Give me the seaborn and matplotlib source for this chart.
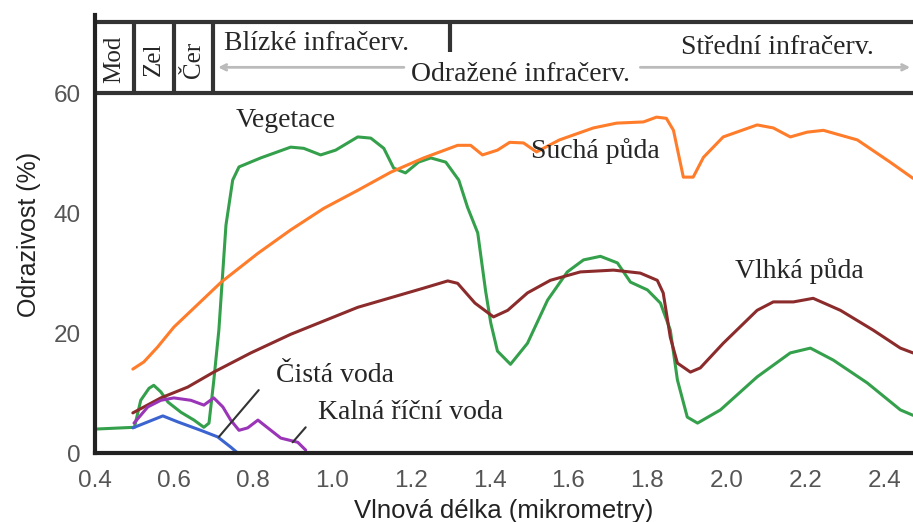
import numpy as np
import pandas as pd
import seaborn as sns
import matplotlib
matplotlib.use("Agg")
import matplotlib.pyplot as plt

# wavelength (micrometres) / reflectance (%)
veg_x = [0.40, 0.50, 0.516, 0.537, 0.549, 0.567, 0.585, 0.618, 0.651, 0.676, 0.689,
         0.701, 0.714, 0.732, 0.749, 0.765, 0.820, 0.896, 0.929, 0.972, 1.010, 1.066,
         1.099, 1.132, 1.157, 1.187, 1.220, 1.251, 1.289, 1.322, 1.344, 1.370, 1.390,
         1.403, 1.420, 1.453, 1.496, 1.547, 1.597, 1.638, 1.681, 1.724, 1.757, 1.800,
         1.833, 1.858, 1.876, 1.901, 1.927, 1.985, 2.078, 2.162, 2.213, 2.271, 2.357,
         2.441, 2.473]
veg_y = [4.0, 4.3, 8.8, 10.8, 11.3, 10.2, 8.5, 6.8, 5.5, 4.3, 5.0,
         12.0, 20.5, 38.0, 45.5, 47.7, 49.2, 51.0, 50.8, 49.7, 50.5, 52.7,
         52.5, 50.8, 47.5, 46.7, 48.5, 49.2, 48.5, 45.5, 41.0, 36.7, 27.0,
         21.7, 17.0, 14.8, 18.3, 25.5, 30.2, 32.2, 32.8, 31.7, 28.5, 27.2,
         25.0, 20.5, 12.2, 6.0, 5.0, 7.2, 12.7, 16.7, 17.5, 15.5, 11.7,
         7.2, 6.3]

dry_x = [0.496, 0.524, 0.559, 0.600, 0.720, 0.813, 0.896, 0.980, 1.066, 1.149, 1.233,
         1.319, 1.352, 1.382, 1.420, 1.451, 1.486, 1.519, 1.577, 1.663, 1.722, 1.790,
         1.823, 1.848, 1.866, 1.891, 1.916, 1.942, 1.992, 2.078, 2.119, 2.162, 2.205,
         2.246, 2.332, 2.415, 2.473]
dry_y = [14.0, 15.2, 17.7, 21.0, 28.5, 33.3, 37.2, 40.8, 43.8, 46.8, 49.2,
         51.3, 51.3, 49.7, 50.5, 51.8, 51.7, 50.2, 52.2, 54.2, 55.0, 55.2,
         56.0, 55.8, 53.8, 46.0, 46.0, 49.3, 52.7, 54.7, 54.2, 52.7, 53.5,
         53.8, 52.2, 48.5, 45.8]

wet_x = [0.496, 0.567, 0.635, 0.701, 0.795, 0.896, 1.066, 1.233, 1.294, 1.319, 1.363,
         1.410, 1.446, 1.496, 1.554, 1.630, 1.714, 1.782, 1.825, 1.840, 1.858, 1.876,
         1.909, 1.934, 1.992, 2.078, 2.119, 2.170, 2.220, 2.289, 2.372, 2.441, 2.473]
wet_y = [6.7, 9.2, 11.0, 13.5, 16.7, 19.8, 24.3, 27.5, 28.7, 28.3, 25.0,
         22.7, 23.8, 26.7, 28.8, 30.2, 30.5, 30.0, 28.8, 26.7, 19.3, 15.0,
         13.5, 14.2, 18.3, 23.8, 25.2, 25.2, 25.8, 23.8, 20.5, 17.5, 16.7]

clear_x = [0.496, 0.534, 0.572, 0.610, 0.668, 0.711, 0.744, 0.762]
clear_y = [4.2, 5.2, 6.2, 5.2, 3.8, 2.7, 1.0, 0.0]

turbid_x = [0.499, 0.534, 0.567, 0.600, 0.643, 0.676, 0.701, 0.724, 0.744, 0.765,
            0.787, 0.813, 0.838, 0.871, 0.914, 0.934]
turbid_y = [5.0, 7.7, 8.8, 9.2, 8.8, 8.0, 9.2, 7.7, 5.5, 3.8,
            4.2, 5.5, 4.2, 2.5, 1.8, 0.5]

x_ticks = [0.4, 0.6, 0.8, 1.0, 1.2, 1.4, 1.6, 1.8, 2.0, 2.2, 2.4]
y_ticks = [0, 20, 40, 60]
band_edges = [0.4, 0.5, 0.6, 0.7]
band_names = ["Mod", "Zel", "Čer"]

sns.set_style("white")
plt.rcParams['font.family'] = ['Liberation Sans', 'DejaVu Sans']

fig = plt.figure(figsize=(9.13, 5.22), dpi=100)
ax = fig.add_axes([0.104, 0.132, 0.896, 0.839])

series = [
    (veg_x, veg_y, "#35a04c"),
    (dry_x, dry_y, "#ff7c2a"),
    (wet_x, wet_y, "#8c2b2b"),
    (clear_x, clear_y, "#3c64d0"),
    (turbid_x, turbid_y, "#9a35b8"),
]
for xs, ys, col in series:
    df = pd.DataFrame({"x": xs, "y": ys})
    sns.lineplot(data=df, x="x", y="y", color=col, lw=2.2, sort=False,
                 estimator=None, ax=ax)

ax.set_xlim(0.4, 2.473)
ax.set_ylim(0, 73)
ax.set_xticks(x_ticks)
ax.set_xticklabels([f"{t:.1f}" for t in x_ticks])
ax.set_yticks(y_ticks)
ax.tick_params(direction="in", length=5, width=2, color="#333",
               labelsize=17.5, labelcolor="#555")
ax.tick_params(axis="x", pad=12)
ax.tick_params(axis="y", pad=10)
ax.set_xlabel("Vlnová délka (mikrometry)", fontsize=18.5, color="#222", labelpad=5)
ax.set_ylabel("Odrazivost (%)", fontsize=18, color="#222", labelpad=9)
for s in ["top", "right"]:
    ax.spines[s].set_visible(False)
for s in ["left", "bottom"]:
    ax.spines[s].set_linewidth(3)
    ax.spines[s].set_color("#222")

# header band with spectral regions
hdr = dict(color="#333", lw=3, solid_capstyle="butt")
ax.plot([0.4, 2.473], [60, 60], **hdr)
ax.plot([0.4, 2.473], [71.8, 71.8], **hdr)
for e in band_edges[1:]:
    ax.plot([e, e], [60, 71.8], **hdr)
ax.plot([1.3, 1.3], [66.8, 71.8], **hdr)

serif = ['Liberation Serif', 'DejaVu Serif']
fs = 20
for i, name in enumerate(band_names):
    ax.text((band_edges[i] + band_edges[i + 1]) / 2, 65.6, name, rotation=90,
            ha="center", va="center", fontsize=18, family=serif)

ax.annotate("", xy=(0.705, 64.3), xytext=(1.19, 64.3),
            arrowprops=dict(arrowstyle="->", color="#bbb", lw=2))
ax.annotate("", xy=(2.473, 64.3), xytext=(1.775, 64.3),
            arrowprops=dict(arrowstyle="->", color="#bbb", lw=2))
ax.text(0.727, 68.3, "Blízké infračerv.", fontsize=fs, family=serif, va="center")
ax.text(1.2, 63.1, "Odražené infračerv.", fontsize=fs, family=serif, va="center")
ax.text(1.884, 67.6, "Střední infračerv.", fontsize=fs, family=serif, va="center")

# curve labels
ax.text(0.757, 55.4, "Vegetace", fontsize=fs, family=serif, va="center")
ax.text(1.504, 50.3, "Suchá půda", fontsize=fs, family=serif, va="center")
ax.text(2.023, 30.3, "Vlhká půda", fontsize=fs, family=serif, va="center")
ax.text(0.858, 13.0, "Čistá voda", fontsize=fs, family=serif, va="center")
ax.text(0.965, 6.8, "Kalná říční voda", fontsize=fs, family=serif, va="center")
ax.plot([0.714, 0.815], [2.7, 10.5], color="#333", lw=1.5)
ax.plot([0.901, 0.934], [1.8, 4.3], color="#333", lw=1.5)

fig.savefig("out.png", dpi=100)
